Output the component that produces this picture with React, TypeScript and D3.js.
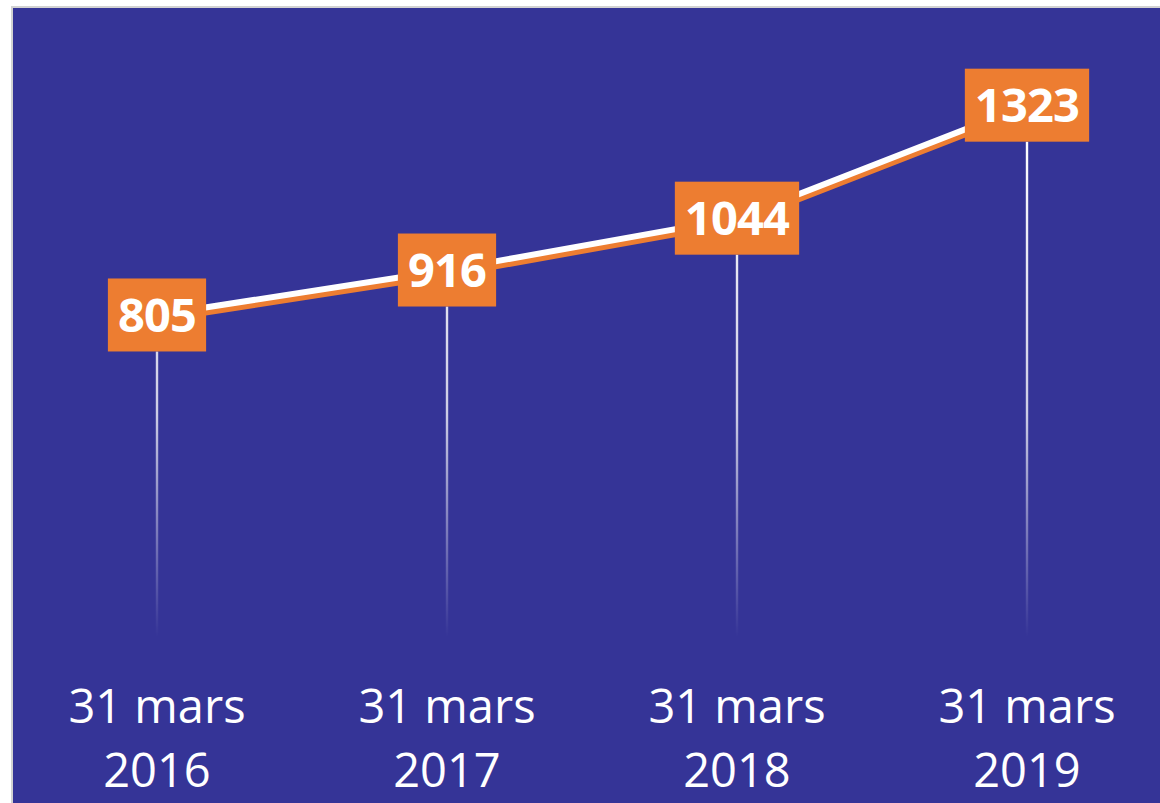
import * as d3 from "d3";
import { useEffect, useRef } from "react";

const categories = ["31 mars 2016", "31 mars 2017", "31 mars 2018", "31 mars 2019"];
const dateLines = [
  ["31 mars", "2016"],
  ["31 mars", "2017"],
  ["31 mars", "2018"],
  ["31 mars", "2019"],
];
const values = [805, 916, 1044, 1323];

const W = 1160;
const H = 803;
const BG = "#353497";
const ORANGE = "#ED7D31";

export default function App() {
  const ref = useRef<SVGSVGElement | null>(null);

  useEffect(() => {
    if (!ref.current) return;
    const svg = d3.select(ref.current);
    svg.selectAll("*").remove();

    const x = d3.scalePoint<string>().domain(categories).range([157, 1027]);
    const y = d3.scaleLinear().domain([0, 1400]).range([641, 74]);
    const pts = categories.map((c, i) => ({ c, v: values[i], x: x(c) ?? 0, y: y(values[i]) }));

    // frame
    svg.append("rect").attr("x", 11).attr("y", 6).attr("width", W - 11).attr("height", H - 6).attr("fill", "#d2d2d2");
    svg.append("rect").attr("x", 13).attr("y", 8).attr("width", W - 13).attr("height", H - 8).attr("fill", BG);

    const defs = svg.append("defs");
    const grad = defs
      .append("linearGradient")
      .attr("id", "drop")
      .attr("gradientUnits", "userSpaceOnUse")
      .attr("x1", 0)
      .attr("y1", 140)
      .attr("x2", 0)
      .attr("y2", y(0) - 4);
    grad.append("stop").attr("offset", 0).attr("stop-color", "#fff").attr("stop-opacity", 1);
    grad.append("stop").attr("offset", 0.55).attr("stop-color", "#fff").attr("stop-opacity", 0.75);
    grad.append("stop").attr("offset", 1).attr("stop-color", "#fff").attr("stop-opacity", 0);

    const boxH = 73;

    // drop lines
    svg
      .append("g")
      .selectAll("rect")
      .data(pts)
      .join("rect")
      .attr("x", (d) => d.x - 1.2)
      .attr("y", (d) => d.y + boxH / 2)
      .attr("width", 2.4)
      .attr("height", (d) => y(0) - 4 - (d.y + boxH / 2))
      .attr("fill", "url(#drop)");

    // line with orange offset
    const line = d3
      .line<(typeof pts)[number]>()
      .x((d) => d.x)
      .y((d) => d.y);
    svg
      .append("path")
      .attr("d", line(pts))
      .attr("transform", "translate(0,5)")
      .attr("fill", "none")
      .attr("stroke", ORANGE)
      .attr("stroke-width", 6);
    svg
      .append("path")
      .attr("d", line(pts))
      .attr("fill", "none")
      .attr("stroke", "#fff")
      .attr("stroke-width", 6);

    // value labels
    const lab = svg.append("g").selectAll("g").data(pts).join("g");
    const rects = lab.append("rect").attr("fill", ORANGE);
    const texts = lab
      .append("text")
      .attr("x", (d) => d.x)
      .attr("y", (d) => d.y + 17)
      .attr("text-anchor", "middle")
      .attr("fill", "#fff")
      .attr("font-family", "'Open Sans', sans-serif")
      .attr("font-weight", 700)
      .attr("font-size", 47)
      .attr("letter-spacing", -0.8)
      .text((d) => String(d.v));
    texts.each(function (d, i) {
      const w = (this as SVGTextElement).getComputedTextLength();
      const bw = w + 20;
      d3.select(rects.nodes()[i])
        .attr("x", d.x - bw / 2)
        .attr("y", d.y - boxH / 2)
        .attr("width", bw)
        .attr("height", boxH);
    });

    // category labels
    const cat = svg
      .append("g")
      .selectAll("text")
      .data(pts)
      .join("text")
      .attr("text-anchor", "middle")
      .attr("fill", "#fff")
      .attr("font-family", "'Open Sans', sans-serif")
      .attr("font-size", 47);
    cat
      .selectAll("tspan")
      .data((d, i) => dateLines[i].map((t, j) => ({ t, j, x: d.x })))
      .join("tspan")
      .attr("x", (d) => d.x)
      .attr("y", (d) => 723 + d.j * 64)
      .text((d) => d.t);
  }, []);

  return (
    <svg
      ref={ref}
      width={W}
      height={H}
      viewBox={`0 0 ${W} ${H}`}
      style={{ position: "absolute", left: 0, top: 0, background: "#fff" }}
    />
  );
}
